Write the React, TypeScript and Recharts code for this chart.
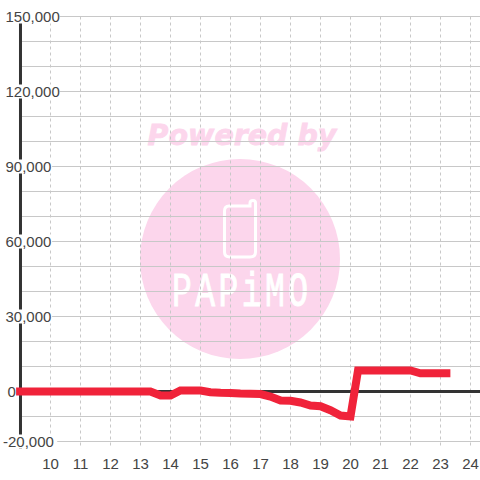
import {
  CartesianGrid,
  Line,
  LineChart,
  ReferenceLine,
  XAxis,
  YAxis,
} from "recharts";

const hours = [
  8.67, 9, 9.33, 9.67, 10, 10.33, 10.67, 11, 11.33, 11.67, 12, 12.33, 12.67, 13, 13.33, 13.67, 14, 14.33, 14.67,
  15, 15.33, 15.67, 16, 16.33, 16.67, 17, 17.33, 17.67, 18, 18.33, 18.67, 19, 19.33, 19.67, 20, 20.25, 20.67, 21,
  21.33, 21.67, 22, 22.33, 22.67, 23, 23.33,
];
const profit = [
  0, 0, 0, 0, 0, 0, 0, 0, 0, 0, 0, 0, 0, 0, 0, -1600, -1600, 400, 400,
  400, -300, -500, -600, -800, -900, -1000, -2000, -3600, -3700, -4400, -5600, -5900, -7500, -9600, -10000, 8400, 8400, 8400,
  8400, 8400, 8400, 7300, 7300, 7300, 7300,
];
const xTicks = [10, 11, 12, 13, 14, 15, 16, 17, 18, 19, 20, 21, 22, 23, 24];
const yLabels = [-20000, 0, 30000, 60000, 90000, 120000, 150000];
const yGrid = [-20000, -10000, 0, 10000, 20000, 30000, 40000, 50000, 60000, 70000, 80000, 90000, 100000, 110000, 120000, 130000, 140000, 150000];

const chartData = hours.map((h, i) => ({ hour: h, profit: profit[i] }));

const FONT = "'Liberation Sans', Arial, sans-serif";
const PINK = "#fcd6ec";
const TEXT = "#444";

function YLabel({ y, payload }: any) {
  const text = payload.value.toLocaleString("en-US");
  const left = payload.value < 0 ? 3 : payload.value === 0 ? 7.5 : 5.5;
  const width = text.length * 7.6;
  return (
    <g>
      <rect x={left - 1} y={y - 7} width={width + 2} height={14} fill="#fff" />
      <text x={left} y={y + 5.5} fontFamily={FONT} fontSize={15} fill={TEXT} textAnchor="start">
        {text}
      </text>
    </g>
  );
}

function Watermark() {
  return (
    <svg width={480} height={480} style={{ position: "absolute", left: 0, top: 0 }}>
      <text
        x={242}
        y={145}
        textAnchor="middle"
        fontFamily="'DejaVu Sans', sans-serif"
        fontWeight="bold"
        fontStyle="italic"
        fontSize={28.5}
        fill={PINK}
        stroke={PINK}
        strokeWidth={0.8}
      >
        Powered by
      </text>
      <circle cx={240} cy={259} r={100} fill={PINK} />
      <path
        d="M229 206 H250 V203 Q250 200.500 253 200.500 Q255.500 200.500 255.500 203 V252 Q255.500 257 250 257 H230 Q224.500 257 224.500 252 V211 Q224.500 206 229 206 Z"
        fill="none"
        stroke="#fff"
        strokeWidth={3}
      />
      <text
        transform="translate(172 306) scale(1 1.45)"
        fontFamily="'Liberation Mono', monospace"
        fontSize={33}
        fill="#fff"
        stroke="#fff"
        strokeWidth={0.7}
        textLength={136}
        lengthAdjust="spacing"
      >
        PAPiMO
      </text>
    </svg>
  );
}

export default function App() {
  return (
    <div style={{ position: "absolute", left: 0, top: 0, width: 480, height: 480, background: "#fff" }}>
      <Watermark />
      <div style={{ position: "absolute", left: 0, top: 0 }}>
        <LineChart width={480} height={480} data={chartData} margin={{ top: 16.5, right: 0, bottom: 0, left: 0 }}>
          <CartesianGrid
            x={20}
            width={460}
            vertical={false}
            horizontalValues={yGrid}
            stroke="#c8c8c8"
            strokeWidth={1}
          />
          <CartesianGrid horizontal={false} verticalValues={xTicks} stroke="#c8c8c8" strokeDasharray="3 3" />
          <XAxis
            dataKey="hour"
            type="number"
            domain={[8.317, 24.317]}
            ticks={xTicks}
            interval={0}
            height={31.5}
            axisLine={false}
            tickLine={false}
            tick={{ fontFamily: FONT, fontSize: 15, fill: TEXT }}
            tickMargin={4}
          />
          <ReferenceLine
            segment={[
              { x: 9, y: 0 },
              { x: 24.317, y: 0 },
            ]}
            stroke="#333"
            strokeWidth={3}
          />
          <ReferenceLine
            segment={[
              { x: 9, y: -22800 },
              { x: 9, y: 150000 },
            ]}
            stroke="#333"
            strokeWidth={3}
          />
          <Line
            dataKey="profit"
            stroke="#f0233a"
            strokeWidth={8}
            dot={false}
            isAnimationActive={false}
            strokeLinejoin="miter"
          />
          <YAxis
            type="number"
            mirror
            width={60}
            domain={[-22800, 150000]}
            ticks={yLabels}
            interval={0}
            axisLine={false}
            tickLine={false}
            tick={<YLabel />}
          />
        </LineChart>
      </div>
    </div>
  );
}
